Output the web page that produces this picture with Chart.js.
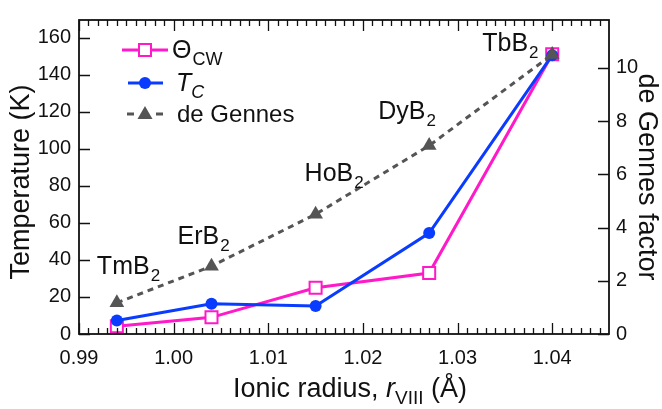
<!DOCTYPE html>
<html>
<head>
<meta charset="utf-8">
<script src="https://cdn.jsdelivr.net/npm/chart.js@4.4.0/dist/chart.umd.min.js"></script>
<style>
  html, body { margin: 0; padding: 0; background: #fff; }
  #wrap { width: 662px; height: 409px; position: relative; }
</style>
</head>
<body>
<div id="wrap"><canvas id="c" width="662" height="409"></canvas></div>
<script>
// ---- data ----
const radius = [0.994, 1.004, 1.015, 1.027, 1.040];
const compounds = ['TmB', 'ErB', 'HoB', 'DyB', 'TbB'];
const thetaCW = [4.2, 9.0, 25.0, 32.9, 151.0];
const tcValues = [7.3, 16.3, 15.1, 54.5, 150.5];
const deGennes = [1.17, 2.55, 4.50, 7.08, 10.50];
const xTickValues = [0.99, 1.00, 1.01, 1.02, 1.03, 1.04];
const yTickValues = [0, 20, 40, 60, 80, 100, 120, 140, 160];
const y2TickValues = [0, 2, 4, 6, 8, 10];

// ---- styles ----
const PINK = '#ff19c8';
const BLUE = '#0a3cff';
const GRAY = '#555555';
const INK = '#111111';
const FONT = "'Liberation Sans', Arial, sans-serif";

const pts = (ys) => radius.map((x, i) => ({ x: x, y: ys[i] }));

// label offsets relative to the de Gennes marker (text left, baseline)
const labelOffsets = [[-20, -29], [-34, -22], [-11, -33], [-51, -27], [-70, -4]];

const decorPlugin = {
  id: 'decor',
  afterDraw(chart) {
    const ctx = chart.ctx;
    const a = chart.chartArea;
    const xs = chart.scales.x, ys = chart.scales.y, y2 = chart.scales.y2;
    ctx.save();
    // frame
    ctx.strokeStyle = INK;
    ctx.lineWidth = 1.8;
    ctx.strokeRect(a.left, a.top, a.right - a.left, a.bottom - a.top);
    // x ticks (bottom and top), inward
    ctx.lineWidth = 1.3;
    ctx.beginPath();
    for (let k = 0; k <= 56; k++) {
      const v = 0.99 + k * 0.001;
      const px = Math.round(xs.getPixelForValue(v)) + 0.5;
      if (px > a.right - 1) break;
      const major = (k % 10 === 0);
      const len = major ? 11 : 6;
      ctx.moveTo(px, a.bottom); ctx.lineTo(px, a.bottom - len);
      ctx.moveTo(px, a.top); ctx.lineTo(px, a.top + len);
    }
    // left y ticks
    yTickValues.forEach(v => {
      const py = Math.round(ys.getPixelForValue(v)) + 0.5;
      ctx.moveTo(a.left, py); ctx.lineTo(a.left + 11, py);
    });
    // right y ticks
    y2TickValues.forEach(v => {
      const py = Math.round(y2.getPixelForValue(v)) + 0.5;
      ctx.moveTo(a.right, py); ctx.lineTo(a.right - 11, py);
    });
    ctx.stroke();

    // compound labels
    ctx.fillStyle = INK;
    ctx.textBaseline = 'alphabetic';
    ctx.textAlign = 'left';
    compounds.forEach((name, i) => {
      const px = xs.getPixelForValue(radius[i]);
      const py = y2.getPixelForValue(deGennes[i]);
      const tx = px + labelOffsets[i][0];
      const ty = py + labelOffsets[i][1];
      ctx.font = '25px ' + FONT;
      ctx.fillText(name, tx, ty);
      const w = ctx.measureText(name).width;
      ctx.font = '17px ' + FONT;
      ctx.fillText('2', tx + w + 1, ty + 7);
    });

    // legend
    const lx0 = 122, lx1 = 168, sx = 145;
    const rows = [50, 83, 114];
    // row 1: Theta_CW
    ctx.strokeStyle = PINK; ctx.lineWidth = 3; ctx.setLineDash([]);
    ctx.beginPath(); ctx.moveTo(lx0, rows[0]); ctx.lineTo(lx1, rows[0]); ctx.stroke();
    ctx.fillStyle = '#fff'; ctx.lineWidth = 2;
    ctx.fillRect(sx - 6, rows[0] - 6, 12, 12);
    ctx.strokeRect(sx - 6, rows[0] - 6, 12, 12);
    ctx.fillStyle = INK;
    ctx.font = '25px ' + FONT;
    ctx.fillText('\u0398', 172, rows[0] + 8);
    let w = ctx.measureText('\u0398').width;
    ctx.font = '18px ' + FONT;
    ctx.fillText('CW', 172 + w + 1, rows[0] + 15);
    // row 2: T_C
    ctx.strokeStyle = BLUE; ctx.lineWidth = 3;
    ctx.beginPath(); ctx.moveTo(128, rows[1]); ctx.lineTo(163, rows[1]); ctx.stroke();
    ctx.fillStyle = BLUE;
    ctx.beginPath(); ctx.arc(sx, rows[1], 6, 0, Math.PI * 2); ctx.fill();
    ctx.fillStyle = INK;
    ctx.font = 'italic 25px ' + FONT;
    ctx.fillText('T', 176, rows[1] + 8);
    w = ctx.measureText('T').width;
    ctx.font = 'italic 18px ' + FONT;
    ctx.fillText('C', 176 + w, rows[1] + 15);
    // row 3: de Gennes
    ctx.strokeStyle = GRAY; ctx.lineWidth = 3;
    ctx.beginPath();
    ctx.moveTo(127, rows[2]); ctx.lineTo(134, rows[2]);
    ctx.moveTo(156, rows[2]); ctx.lineTo(163, rows[2]);
    ctx.stroke();
    ctx.fillStyle = GRAY;
    ctx.beginPath();
    ctx.moveTo(sx, rows[2] - 8); ctx.lineTo(sx + 7.5, rows[2] + 5); ctx.lineTo(sx - 7.5, rows[2] + 5);
    ctx.closePath(); ctx.fill();
    ctx.fillStyle = INK;
    ctx.font = '24px ' + FONT;
    ctx.fillText('de Gennes', 177, rows[2] + 8);

    // axis titles
    // bottom
    const parts = [
      { t: 'Ionic radius, ', f: '27px ' + FONT, dy: 0 },
      { t: 'r', f: 'italic 27px ' + FONT, dy: 0 },
      { t: 'VIII', f: '19px ' + FONT, dy: 7 },
      { t: ' (\u00C5)', f: '27px ' + FONT, dy: 0 }
    ];
    let total = 0;
    parts.forEach(p => { ctx.font = p.f; p.w = ctx.measureText(p.t).width; total += p.w; });
    let cx = (a.left + a.right) / 2 + 6 - total / 2;
    parts.forEach(p => { ctx.font = p.f; ctx.fillText(p.t, cx, 397 + p.dy); cx += p.w; });
    // left
    ctx.save();
    ctx.translate(29, (a.top + a.bottom) / 2 + 5);
    ctx.rotate(-Math.PI / 2);
    ctx.textAlign = 'center';
    ctx.font = '27px ' + FONT;
    ctx.fillText('Temperature (K)', 0, 0);
    ctx.restore();
    // right
    ctx.save();
    ctx.translate(639, (a.top + a.bottom) / 2);
    ctx.rotate(Math.PI / 2);
    ctx.textAlign = 'center';
    ctx.font = '27px ' + FONT;
    ctx.fillText('de Gennes factor', 0, 0);
    ctx.restore();

    ctx.restore();
  }
};

const tickFont = { family: FONT, size: 20 };

new Chart(document.getElementById('c'), {
  type: 'line',
  data: {
    datasets: [
      {
        label: 'ThetaCW', data: pts(thetaCW), yAxisID: 'y', order: 3,
        borderColor: PINK, borderWidth: 3, tension: 0,
        pointStyle: 'rect', pointRadius: 8.5, pointBackgroundColor: '#fff',
        pointBorderColor: PINK, pointBorderWidth: 2
      },
      {
        label: 'TC', data: pts(tcValues), yAxisID: 'y', order: 2,
        borderColor: BLUE, borderWidth: 3, tension: 0,
        pointStyle: 'circle', pointRadius: 6, pointBackgroundColor: BLUE,
        pointBorderColor: BLUE, pointBorderWidth: 0
      },
      {
        label: 'de Gennes', data: pts(deGennes), yAxisID: 'y2', order: 1,
        borderColor: GRAY, borderWidth: 3, borderDash: [6, 5], tension: 0,
        pointStyle: 'triangle', pointRadius: 8.5, pointBackgroundColor: GRAY,
        pointBorderColor: GRAY, pointBorderWidth: 0
      }
    ]
  },
  options: {
    responsive: false,
    animation: false,
    devicePixelRatio: 1,
    layout: { padding: { top: 8, left: 0, right: 0, bottom: 0 } },
    plugins: { legend: { display: false }, tooltip: { enabled: false } },
    scales: {
      x: {
        type: 'linear', min: 0.99, max: 1.046,
        afterBuildTicks: s => { s.ticks = xTickValues.map(v => ({ value: v })); },
        afterFit: s => { s.height = 75; },
        ticks: { font: tickFont, color: INK, padding: 12, maxRotation: 0,
                 callback: v => Number(v).toFixed(2) },
        grid: { display: false, drawTicks: false },
        border: { display: false }
      },
      y: {
        type: 'linear', position: 'left', min: 0, max: 169.5,
        afterBuildTicks: s => { s.ticks = yTickValues.map(v => ({ value: v })); },
        afterFit: s => { s.width = 79; },
        ticks: { font: tickFont, color: INK, padding: 8 },
        grid: { display: false, drawTicks: false },
        border: { display: false }
      },
      y2: {
        type: 'linear', position: 'right', min: 0, max: 11.8,
        afterBuildTicks: s => { s.ticks = y2TickValues.map(v => ({ value: v })); },
        afterFit: s => { s.width = 53; },
        ticks: { font: tickFont, color: INK, padding: 7 },
        grid: { display: false, drawTicks: false },
        border: { display: false }
      }
    }
  },
  plugins: [decorPlugin]
});
</script>
</body>
</html>
